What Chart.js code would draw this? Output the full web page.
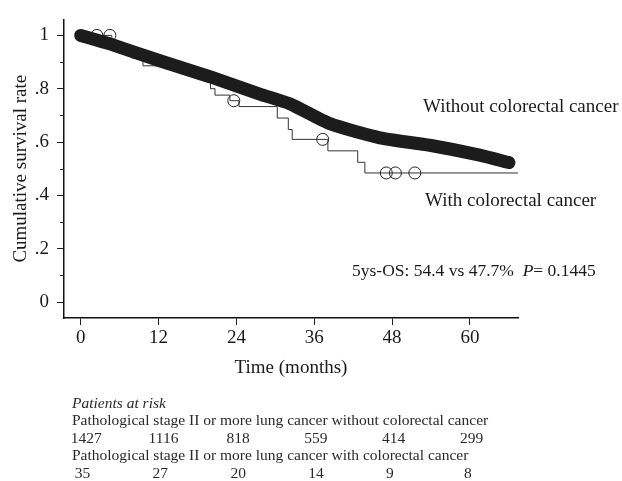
<!DOCTYPE html>
<html>
<head>
<meta charset="utf-8">
<script src="https://cdn.jsdelivr.net/npm/chart.js@4"></script>
<style>
  body { margin: 0; background: #fff; }
  #wrap { width: 622px; height: 481px; }
</style>
</head>
<body>
<div id="wrap"><canvas id="km" width="622" height="481"></canvas></div>
<script>
// Kaplan-Meier curves, values
const xTicks = [0, 12, 24, 36, 48, 60];
const yTicks = [0, 0.2, 0.4, 0.6, 0.8, 1];
const yTickLabels = ["0", ".2", ".4", ".6", ".8", "1"];
const yMinorTicks = [0.1, 0.3, 0.5, 0.7, 0.9];

// without colorectal cancer (thick band of censor marks)
const bandMonths = [0, 4.5, 12.2, 19.9, 27.6, 32.3, 38.4, 46.1, 53.8, 61.5, 66.0];
const bandSurvival = [1.0, 0.968, 0.905, 0.845, 0.780, 0.743, 0.669, 0.616, 0.588, 0.551, 0.523];

// with colorectal cancer (step curve)
const crcMonths = [0, 4.8, 6.5, 8.0, 9.6, 16.0, 19.2, 20.0, 20.7, 23.0, 24.4, 30.3, 32.0, 32.6, 38.1, 42.7, 43.8, 67.4];
const crcSurvival = [1.0, 0.971, 0.943, 0.914, 0.886, 0.857, 0.829, 0.800, 0.776, 0.755, 0.733, 0.690, 0.647, 0.610, 0.567, 0.524, 0.484, 0.484];

// censored marks on the colorectal curve
const censorMonths = [2.5, 4.5, 23.6, 37.3, 47.1, 48.5, 51.5];
const censorSurvival = [1.0, 1.0, 0.755, 0.610, 0.484, 0.484, 0.484];

// patients at risk
const riskMonths = [0, 12, 24, 36, 48, 60];
const riskWithout = [1427, 1116, 818, 559, 414, 299];
const riskWith = [35, 27, 20, 14, 9, 8];

const serif = "'Liberation Serif', 'DejaVu Serif', serif";
const ink = "#1a1a1a";

const toXY = (xs, ys) => xs.map((x, i) => ({ x, y: ys[i] }));

const annotations = {
  id: "annotations",
  afterDraw(chart) {
    const { ctx, scales: { x, y } } = chart;
    ctx.save();

    // minor ticks on y axis
    ctx.strokeStyle = "#222";
    ctx.lineWidth = 1;
    yMinorTicks.forEach((v) => {
      const py = Math.round(y.getPixelForValue(v)) + 0.5;
      ctx.beginPath();
      ctx.moveTo(x.left - 4, py);
      ctx.lineTo(x.left, py);
      ctx.stroke();
    });

    ctx.fillStyle = ink;
    ctx.textBaseline = "middle";
    ctx.textAlign = "left";
    ctx.font = `19px ${serif}`;
    ctx.fillText("Without colorectal cancer", 423, 107);
    ctx.fillText("With colorectal cancer", 425, 201);

    // 5-year OS and p value
    ctx.font = `17.5px ${serif}`;
    let tx = 352;
    const t1 = "5ys-OS: 54.4 vs 47.7%  ";
    ctx.fillText(t1, tx, 271);
    tx += ctx.measureText(t1).width;
    ctx.font = `italic 17.5px ${serif}`;
    ctx.fillText("P", tx, 271);
    tx += ctx.measureText("P").width;
    ctx.font = `17.5px ${serif}`;
    ctx.fillText("= 0.1445", tx, 271);

    // patients at risk table
    ctx.fillStyle = "#2a2a2a";
    ctx.font = `italic 15.5px ${serif}`;
    ctx.fillText("Patients at risk", 72, 404);
    ctx.font = `15.5px ${serif}`;
    ctx.fillText("Pathological stage II or more lung cancer without colorectal cancer", 72, 421);
    ctx.fillText("Pathological stage II or more lung cancer with colorectal cancer", 72, 456);
    riskMonths.forEach((m, i) => {
      const px = x.getPixelForValue(m);
      ctx.fillText(String(riskWithout[i]), px - 10, 439);
      ctx.fillText(String(riskWith[i]), px - 6, 474);
    });

    ctx.restore();
  },
};

new Chart(document.getElementById("km"), {
  type: "line",
  data: {
    datasets: [
      {
        label: "Without colorectal cancer",
        data: toXY(bandMonths, bandSurvival),
        borderColor: "#1c1c1c",
        borderWidth: 13,
        borderCapStyle: "round",
        borderJoinStyle: "round",
        tension: 0.2,
        pointRadius: 0,
        order: 0,
      },
      {
        label: "Censored",
        data: toXY(censorMonths, censorSurvival),
        showLine: false,
        pointStyle: "circle",
        pointRadius: 6,
        pointBorderWidth: 1,
        pointBorderColor: "#222",
        pointBackgroundColor: "rgba(0,0,0,0)",
        order: 1,
      },
      {
        label: "With colorectal cancer",
        data: toXY(crcMonths, crcSurvival),
        borderColor: "#333",
        borderWidth: 1,
        stepped: true,
        pointRadius: 0,
        order: 2,
      },
    ],
  },
  options: {
    responsive: false,
    animation: false,
    layout: { padding: { top: 15, right: 104, bottom: 0, left: 0 } },
    plugins: {
      legend: { display: false },
      tooltip: { enabled: false },
    },
    scales: {
      x: {
        type: "linear",
        min: -2.57,
        max: 67.4,
        afterBuildTicks: (s) => { s.ticks = xTicks.map((v) => ({ value: v })); },
        afterFit: (s) => { s.height = 163; },
        grid: { drawOnChartArea: false, drawTicks: true, tickLength: 7, color: "#222" },
        border: { display: true, color: "#111", width: 1.5 },
        ticks: {
          color: ink,
          padding: 2,
          maxRotation: 0,
          font: { family: serif, size: 19 },
        },
        title: {
          display: true,
          text: "Time (months)",
          color: ink,
          font: { family: serif, size: 19 },
          padding: { top: 0, bottom: 101.6 },
        },
      },
      y: {
        type: "linear",
        min: -0.06,
        max: 1.06,
        afterBuildTicks: (s) => { s.ticks = yTicks.map((v) => ({ value: v })); },
        afterFit: (s) => { s.width = 64; },
        grid: { drawOnChartArea: false, drawTicks: true, tickLength: 7, color: "#222" },
        border: { display: true, color: "#111", width: 1.5 },
        ticks: {
          color: ink,
          padding: 8,
          font: { family: serif, size: 19 },
          callback: (v) => yTickLabels[yTicks.indexOf(v)],
        },
        title: {
          display: true,
          text: "Cumulative survival rate",
          color: ink,
          font: { family: serif, size: 19 },
          padding: { top: 10, bottom: 0 },
        },
      },
    },
  },
  plugins: [annotations],
});
</script>
</body>
</html>
